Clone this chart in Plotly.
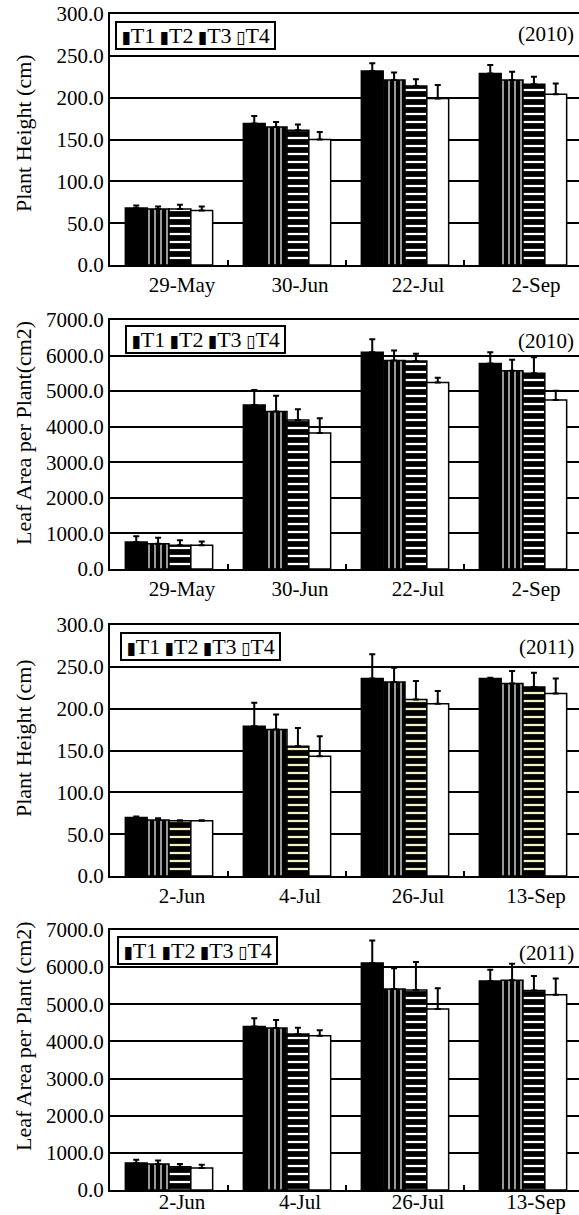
import plotly.graph_objects as go

W, H = 579, 1215

# ---------------- data ----------------
dates_2010 = ["29-May", "30-Jun", "22-Jul", "2-Sep"]
dates_2011 = ["2-Jun", "4-Jul", "26-Jul", "13-Sep"]
treatments = ["T1", "T2", "T3", "T4"]

# Panel 1: plant height 2010 (cm)
ph2010 = {
    "T1": [68, 169, 232, 229],
    "T2": [67, 165, 221, 221],
    "T3": [67, 161, 214, 216],
    "T4": [65, 150, 199, 204],
}
ph2010_err = {
    "T1": [3, 9, 9, 10],
    "T2": [3, 6, 9, 10],
    "T3": [5, 7, 8, 9],
    "T4": [5, 9, 16, 13],
}
# Panel 2: leaf area per plant 2010 (cm2)
la2010 = {
    "T1": [760, 4610, 6090, 5780],
    "T2": [710, 4430, 5860, 5570],
    "T3": [670, 4190, 5850, 5500],
    "T4": [670, 3820, 5240, 4750],
}
la2010_err = {
    "T1": [160, 420, 370, 310],
    "T2": [170, 440, 280, 310],
    "T3": [140, 300, 200, 450],
    "T4": [100, 420, 140, 260],
}
# Panel 3: plant height 2011 (cm)
ph2011 = {
    "T1": [70, 179, 236, 236],
    "T2": [67, 175, 232, 230],
    "T3": [66, 155, 211, 226],
    "T4": [66, 143, 206, 218],
}
ph2011_err = {
    "T1": [1, 28, 29, 1],
    "T2": [2, 18, 17, 15],
    "T3": [0.5, 22, 22, 17],
    "T4": [0.5, 24, 15, 18],
}
# Panel 4: leaf area per plant 2011 (cm2)
la2011 = {
    "T1": [730, 4400, 6110, 5630],
    "T2": [700, 4360, 5410, 5650],
    "T3": [625, 4200, 5385, 5370],
    "T4": [590, 4150, 4870, 5255],
}
la2011_err = {
    "T1": [85, 225, 610, 300],
    "T2": [95, 215, 560, 440],
    "T3": [75, 170, 755, 390],
    "T4": [90, 150, 560, 440],
}

panels = [
    dict(cats=dates_2010, vals=ph2010, errs=ph2010_err, ymax=300, dtick=50,
         ytitle="Plant Height (cm)", year="(2010)", t3fg="white"),
    dict(cats=dates_2010, vals=la2010, errs=la2010_err, ymax=7000, dtick=1000,
         ytitle="Leaf Area per Plant(cm2)", year="(2010)", t3fg="white"),
    dict(cats=dates_2011, vals=ph2011, errs=ph2011_err, ymax=300, dtick=50,
         ytitle="Plant Height (cm)", year="(2011)", t3fg="#f3efc4"),
    dict(cats=dates_2011, vals=la2011, errs=la2011_err, ymax=7000, dtick=1000,
         ytitle="Leaf Area per Plant (cm2)", year="(2011)", t3fg="white"),
]

# ---------------- layout geometry (px) ----------------
panel_px = [(14, 265), (320, 569), (625, 876), (930, 1190)]
title_cy = [133, 433, 738, 1036]
legend_px = [(115, 21), (125, 325), (120, 632), (117, 936)]
year_cy = [34, 341, 647, 953]
label_standoff = [0, 0, 0, -8]
plot_left = 110
cat_px = 118

FONT = "Liberation Serif, Times New Roman, serif"
FS = 21

def px_x(x):
    return x / W

def px_y(y):
    return 1 - y / H

fig = go.Figure()
layout_axes = {}
annotations = []

for i, p in enumerate(panels):
    n = i + 1
    xa = "x" if n == 1 else f"x{n}"
    ya = "y" if n == 1 else f"y{n}"
    xpos = list(range(len(p["cats"])))
    for t in treatments:
        if t == "T1":
            marker = dict(color="black", line=dict(color="black", width=1.5))
        elif t == "T2":
            marker = dict(color="black", line=dict(color="black", width=1.5),
                          pattern=dict(shape="|", fgcolor="white", bgcolor="black",
                                       size=6, solidity=0.2))
        elif t == "T3":
            marker = dict(color="black", line=dict(color="black", width=1.5),
                          pattern=dict(shape="-", fgcolor=p["t3fg"], bgcolor="black",
                                       size=8, solidity=0.28))
        else:
            marker = dict(color="white", line=dict(color="black", width=1.5))
        fig.add_trace(go.Bar(
            x=xpos, y=p["vals"][t], name=t, marker=marker,
            error_y=dict(type="data", array=p["errs"][t],
                         arrayminus=[0] * len(xpos), symmetric=False,
                         color="black", thickness=2, width=3),
            xaxis=xa, yaxis=ya, showlegend=False,
        ))
    top, bot = panel_px[i]
    xkey = "xaxis" if n == 1 else f"xaxis{n}"
    ykey = "yaxis" if n == 1 else f"yaxis{n}"
    layout_axes[xkey] = dict(
        domain=[px_x(plot_left), 1],
        range=[-0.5, -0.5 + (W - plot_left) / cat_px],
        tickmode="array",
        tickvals=[k + 0.11 for k in xpos],
        ticktext=p["cats"],
        ticks="",
        ticklabelstandoff=label_standoff[i],
        showgrid=False, zeroline=False, automargin=False,
        showline=True, linecolor="black", linewidth=2, mirror=True,
        tickfont=dict(family=FONT, size=FS, color="black"),
        minor=dict(tickmode="array", tickvals=[k + 0.5 for k in xpos[:-1]],
                   ticks="inside", ticklen=5, tickwidth=2, tickcolor="black",
                   showgrid=False),
        anchor=ya, fixedrange=True,
    )
    layout_axes[ykey] = dict(
        domain=[px_y(bot), px_y(top)],
        range=[0, p["ymax"]],
        dtick=p["dtick"], tick0=0,
        tickformat=".1f",
        ticks="",
        showgrid=True, gridcolor="black", gridwidth=2,
        zeroline=False, automargin=False,
        showline=True, linecolor="black", linewidth=2, mirror=False,
        tickfont=dict(family=FONT, size=FS, color="black"),
        anchor=xa, fixedrange=True,
    )
    # y title
    annotations.append(dict(
        text=p["ytitle"], textangle=-90, x=px_x(23), y=px_y(title_cy[i]),
        xref="paper", yref="paper", xanchor="center", yanchor="middle",
        showarrow=False, font=dict(family=FONT, size=22, color="black"),
    ))
    # legend box
    lx, ly = legend_px[i]
    sq = '<span style="font-family:DejaVu Sans;font-size:17px">%s</span>'
    legend_text = "\u2009" + "\u2009".join(
        (sq % ("\u25af" if t == "T4" else "\u25ae")) + t for t in treatments
    ) + "\u2009"
    annotations.append(dict(
        text=legend_text, x=px_x(lx), y=px_y(ly),
        xref="paper", yref="paper", xanchor="left", yanchor="top",
        showarrow=False, font=dict(family=FONT, size=22, color="black"),
        bordercolor="black", borderwidth=2, borderpad=0, bgcolor="white",
    ))
    # year label
    annotations.append(dict(
        text=p["year"], x=px_x(576), y=px_y(year_cy[i]),
        xref="paper", yref="paper", xanchor="right", yanchor="middle",
        showarrow=False, font=dict(family=FONT, size=FS, color="black"),
    ))

fig.update_layout(
    template="none",
    width=W, height=H,
    margin=dict(l=0, r=0, t=0, b=0, pad=0),
    paper_bgcolor="white", plot_bgcolor="white",
    barmode="group", bargap=0.26, bargroupgap=0,
    showlegend=False,
    annotations=annotations,
    **layout_axes,
)

fig.write_html(
    "out.html",
    config={"displayModeBar": False},
    post_script="document.body.style.margin='0';"
                "document.body.style.overflow='hidden';",
)
